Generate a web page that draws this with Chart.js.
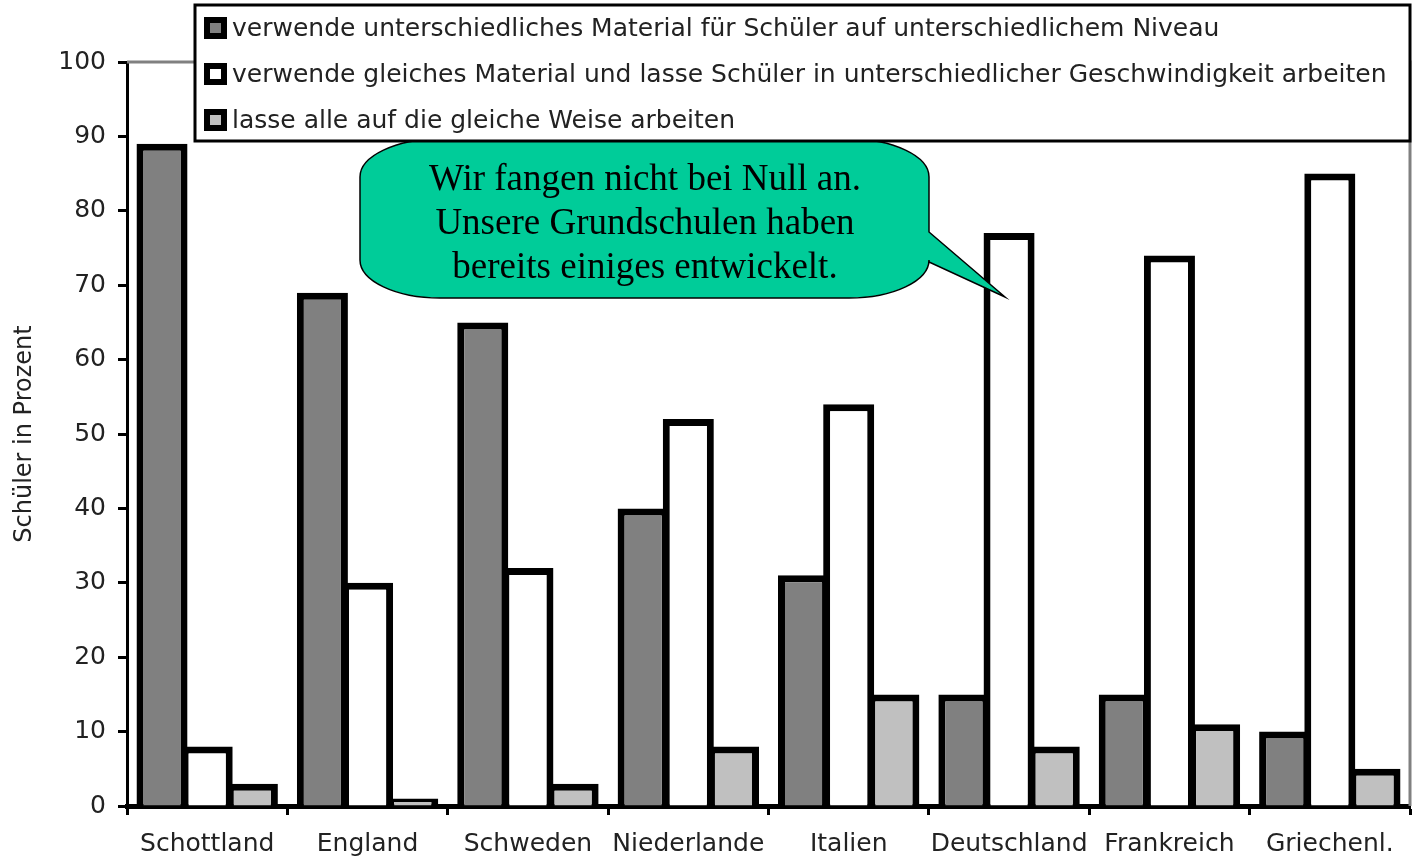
<!DOCTYPE html>
<html>
<head>
<meta charset="utf-8">
<script src="https://cdn.jsdelivr.net/npm/chart.js@4.4.1/dist/chart.umd.min.js"></script>
<style>
  html, body { margin: 0; padding: 0; background: #fff; }
  #wrap { width: 1415px; height: 859px; position: relative; }
</style>
</head>
<body>
<div id="wrap"><canvas id="chartCanvas" width="1415" height="859"></canvas></div>
<script>
const countries = ["Schottland", "England", "Schweden", "Niederlande", "Italien", "Deutschland", "Frankreich", "Griechenl."];
const seriesNames = [
  "verwende unterschiedliches Material für Schüler auf unterschiedlichem Niveau",
  "verwende gleiches Material und lasse Schüler in unterschiedlicher Geschwindigkeit arbeiten",
  "lasse alle auf die gleiche Weise arbeiten",
];
const differentMaterial = [89, 69, 65, 40, 31, 15, 15, 10];
const samePaceDiffers = [8, 30, 32, 52, 54, 77, 74, 85];
const allSameWay = [3, 1, 3, 8, 15, 8, 11, 5];
const seriesColors = ["#808080", "#FFFFFF", "#C0C0C0"];
const yTicks = [0, 10, 20, 30, 40, 50, 60, 70, 80, 90, 100];
const calloutLines = ["Wir fangen nicht bei Null an.", "Unsere Grundschulen haben", "bereits einiges entwickelt."];

const SANS = "'DejaVu Sans', Verdana, sans-serif";
const SERIF = "'Liberation Serif', 'Times New Roman', serif";

// gray frame on top/right of the plot area, like the old spreadsheet chart
const frameLines = {
  id: "frameLines",
  beforeDatasetsDraw(chart) {
    const { ctx, chartArea: a } = chart;
    ctx.save();
    ctx.strokeStyle = "#808080";
    ctx.lineWidth = 3;
    ctx.beginPath();
    ctx.moveTo(a.left, a.top);
    ctx.lineTo(a.right, a.top);
    ctx.lineTo(a.right, a.bottom);
    ctx.stroke();
    ctx.restore();
  },
};

function bubblePath(ctx, l, t, r, b, rx, ry, tail) {
  ctx.beginPath();
  ctx.moveTo(l + rx, t);
  ctx.lineTo(r - rx, t);
  ctx.ellipse(r - rx, t + ry, rx, ry, 0, -Math.PI / 2, 0);
  ctx.lineTo(r, tail.y1);
  ctx.lineTo(tail.x, tail.y);
  ctx.lineTo(r, tail.y2);
  ctx.lineTo(r, b - ry);
  ctx.ellipse(r - rx, b - ry, rx, ry, 0, 0, Math.PI / 2);
  ctx.lineTo(l + rx, b);
  ctx.ellipse(l + rx, b - ry, rx, ry, 0, Math.PI / 2, Math.PI);
  ctx.lineTo(l, t + ry);
  ctx.ellipse(l + rx, t + ry, rx, ry, 0, Math.PI, Math.PI * 1.5);
  ctx.closePath();
}

const callout = {
  id: "callout",
  afterDraw(chart) {
    const ctx = chart.ctx;
    ctx.save();
    bubblePath(ctx, 360, 139, 929, 298, 80, 38, { y1: 232, x: 1005, y: 297, y2: 262 });
    ctx.fillStyle = "#00CC99";
    ctx.fill();
    ctx.strokeStyle = "#000";
    ctx.lineWidth = 1.5;
    ctx.stroke();
    ctx.fillStyle = "#000";
    ctx.font = "37px " + SERIF;
    ctx.textAlign = "center";
    ctx.textBaseline = "middle";
    calloutLines.forEach((line, i) => ctx.fillText(line, 645, 180 + i * 44));
    ctx.restore();
  },
};

const boxLegend = {
  id: "boxLegend",
  afterDraw(chart) {
    const ctx = chart.ctx;
    const box = { l: 195, t: 5, r: 1410, b: 141 };
    ctx.save();
    ctx.fillStyle = "#fff";
    ctx.fillRect(box.l, box.t, box.r - box.l, box.b - box.t);
    ctx.strokeStyle = "#000";
    ctx.lineWidth = 3;
    ctx.strokeRect(box.l, box.t, box.r - box.l, box.b - box.t);
    chart.data.datasets.forEach((ds, i) => {
      const cy = 28 + i * 46;
      ctx.fillStyle = "#000";
      ctx.fillRect(204, cy - 11, 23, 22);
      ctx.fillStyle = ds.backgroundColor;
      ctx.fillRect(210, cy - 5, 11, 10);
      ctx.fillStyle = "#222";
      ctx.font = "25px " + SANS;
      ctx.textBaseline = "middle";
      ctx.fillText(ds.label, 232, cy + 1);
    });
    ctx.restore();
  },
};

const datasets = [differentMaterial, samePaceDiffers, allSameWay].map((values, i) => ({
  label: seriesNames[i],
  data: values,
  backgroundColor: seriesColors[i],
  borderColor: "#000",
  borderWidth: 7,
  borderSkipped: "start",
  categoryPercentage: 0.845,
  barPercentage: 1.13,
}));

new Chart(document.getElementById("chartCanvas"), {
  type: "bar",
  data: { labels: countries, datasets },
  options: {
    responsive: false,
    animation: false,
    devicePixelRatio: 1,
    layout: { padding: { top: 62, right: 5, left: 0, bottom: 0 } },
    plugins: { legend: { display: false }, tooltip: { enabled: false } },
    scales: {
      x: {
        afterFit: (s) => { s.height = 53; },
        border: { color: "#000", width: 5 },
        grid: { drawOnChartArea: false, drawTicks: true, tickLength: 9, tickColor: "#000", tickWidth: 3, offset: true },
        ticks: { color: "#222", font: { family: SANS, size: 25 }, padding: 14, maxRotation: 0, autoSkip: false },
      },
      y: {
        min: 0,
        max: 100,
        afterFit: (s) => { s.width = 127; },
        afterBuildTicks: (s) => { s.ticks = yTicks.map(v => ({ value: v })); },
        border: { color: "#000", width: 3 },
        grid: { drawOnChartArea: false, drawTicks: true, tickLength: 9, tickColor: "#000", tickWidth: 3 },
        ticks: { color: "#222", font: { family: SANS, size: 25 }, padding: 12 },
        title: { display: true, text: "Schüler in Prozent", color: "#222", font: { family: SANS, size: 24 }, padding: { top: 10, bottom: 0 } },
      },
    },
  },
  plugins: [frameLines, callout, boxLegend],
});
</script>
</body>
</html>
